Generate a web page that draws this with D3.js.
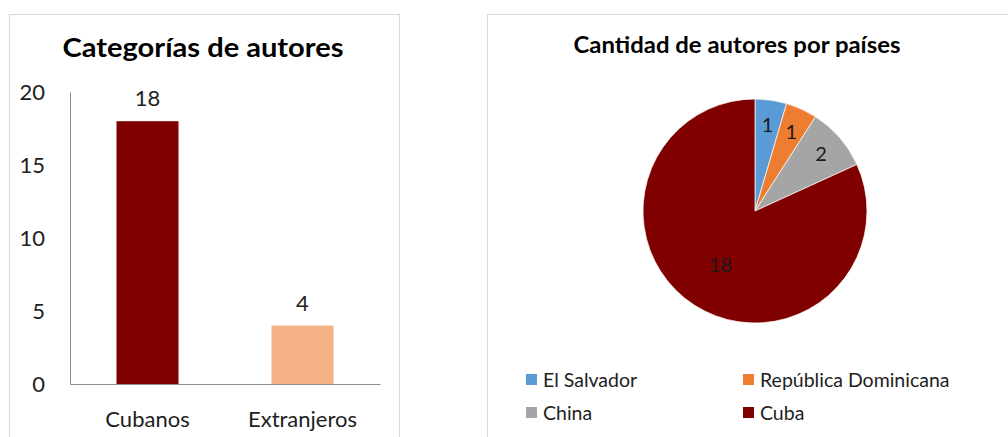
<!DOCTYPE html>
<meta charset="utf-8">
<html lang="es">
<head>
    <title>Autores</title>
    <script src="https://cdn.jsdelivr.net/npm/d3@7"></script>
</head>
<style>
    body { margin: 0; background: #fff; }
    svg { display: block; }
    text { font-family: Lato, "Open Sans", sans-serif; fill: #1e1e1e; }
</style>
<body>
<svg width="1008" height="437"></svg>
<script>
    // bar chart data
    const barTitle = "Categorías de autores"
    const barCats = ["Cubanos", "Extranjeros"]
    const barVals = [18, 4]
    const barColors = ["#800000", "#f4b183"]
    const yTicks = [0, 5, 10, 15, 20]

    // pie chart data
    const pieTitle = "Cantidad de autores por países"
    const pieCats = ["El Salvador", "República Dominicana", "China", "Cuba"]
    const pieVals = [1, 1, 2, 18]
    const pieColors = ["#5b9bd5", "#ed7d31", "#a5a5a5", "#800000"]

    const svg = d3.select("svg")

    // chart frames
    svg.append("rect").attr("x", 9.5).attr("y", 14.5).attr("width", 390).attr("height", 440)
        .attr("fill", "none").attr("stroke", "#d9d9d9")
    svg.append("rect").attr("x", 487.5).attr("y", 14.5).attr("width", 540).attr("height", 440)
        .attr("fill", "none").attr("stroke", "#d9d9d9")

    // ---------- bar chart ----------
    const x = d3.scaleBand().domain(barCats).range([70, 380]).paddingInner(0.6).paddingOuter(0.3)
    const y = d3.scaleLinear().domain([0, 20]).range([384, 92])

    svg.append("text").attr("x", 203).attr("y", 57).attr("text-anchor", "middle")
        .attr("textLength", 281).attr("lengthAdjust", "spacingAndGlyphs")
        .style("font-size", "26px").style("font-weight", "bold").style("fill", "#000")
        .text(barTitle)

    const yAxis = svg.append("g").attr("transform", "translate(70,0)")
        .call(d3.axisLeft(y).tickValues(yTicks).tickSize(0).tickPadding(25))
    yAxis.select(".domain").attr("stroke", "#8c8c8c")
    yAxis.selectAll("text").style("font-size", "22px").style("font-family", "Lato, sans-serif").attr("fill", "#1e1e1e")

    const xAxis = svg.append("g").attr("transform", "translate(0,384)")
        .call(d3.axisBottom(x).tickSize(0).tickPadding(27))
    xAxis.select(".domain").attr("stroke", "#8c8c8c")
    xAxis.selectAll("text").style("font-size", "22px").style("font-family", "Lato, sans-serif").attr("fill", "#1e1e1e")

    svg.selectAll(".bar").data(barVals).enter().append("rect")
        .attr("x", (d, i) => x(barCats[i]))
        .attr("y", d => y(d))
        .attr("width", x.bandwidth())
        .attr("height", d => y(0) - y(d))
        .attr("fill", (d, i) => barColors[i])

    svg.selectAll(".barlab").data(barVals).enter().append("text")
        .attr("x", (d, i) => x(barCats[i]) + x.bandwidth() / 2)
        .attr("y", d => y(d) - 15)
        .attr("text-anchor", "middle")
        .style("font-size", "22px")
        .text(d => d)

    // ---------- pie chart ----------
    svg.append("text").attr("x", 737).attr("y", 53).attr("text-anchor", "middle")
        .attr("textLength", 327).attr("lengthAdjust", "spacingAndGlyphs")
        .style("font-size", "22px").style("font-weight", "bold").style("fill", "#000")
        .text(pieTitle)

    const r = 112
    const pieG = svg.append("g").attr("transform", "translate(755,211)")
    const pie = d3.pie().sort(null)
    const arcs = pie(pieVals)
    const arc = d3.arc().innerRadius(0).outerRadius(r)
    const total = d3.sum(pieVals)

    pieG.selectAll("path").data(arcs).enter().append("path")
        .attr("d", arc)
        .attr("fill", (d, i) => pieColors[i])
        .attr("stroke", "#fff").attr("stroke-width", 0.7)

    const labelArcSmall = d3.arc().innerRadius(r * 0.78).outerRadius(r * 0.78)
    const labelArcBig = d3.arc().innerRadius(r * 0.57).outerRadius(r * 0.57)
    pieG.selectAll(".plab").data(arcs).enter().append("text")
        .attr("transform", d => {
            const a = d.value / total > 0.5 ? labelArcBig : labelArcSmall
            return "translate(" + a.centroid(d) + ")"
        })
        .attr("text-anchor", "middle")
        .attr("dy", "0.35em")
        .style("font-size", "20px")
        .style("fill", "#1a1a1a")
        .text(d => d.value)

    // legend
    const legX = [526, 743]
    const legY = [380, 413]
    const leg = svg.selectAll(".leg").data(pieCats).enter().append("g")
        .attr("transform", (d, i) => "translate(" + legX[i % 2] + "," + legY[Math.floor(i / 2)] + ")")
    leg.append("rect").attr("x", 0).attr("y", -6).attr("width", 11).attr("height", 11)
        .attr("fill", (d, i) => pieColors[i])
    leg.append("text").attr("x", 17).attr("dy", "0.35em")
        .style("font-size", "19.5px")
        .text(d => d)
</script>
</body>
</html>
